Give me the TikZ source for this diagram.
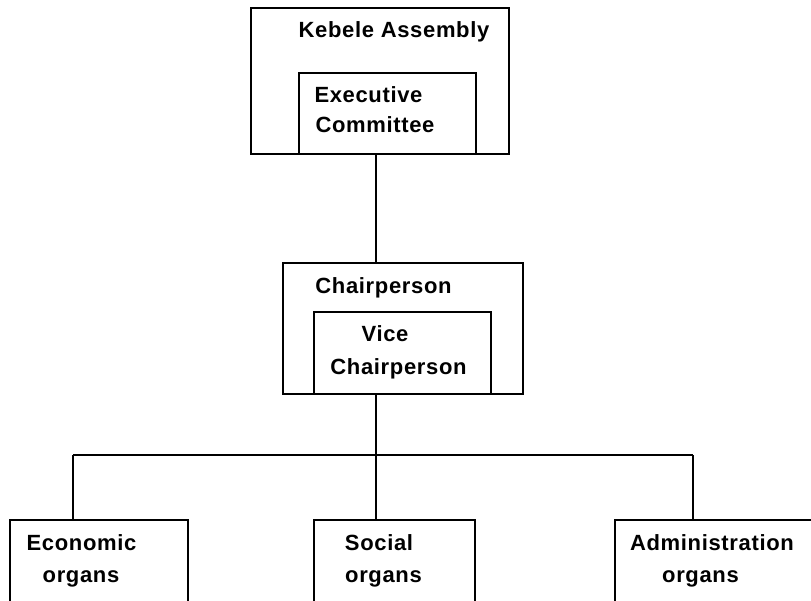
\documentclass[tikz,border=0pt]{standalone}
\usepackage{fontspec}
\setmainfont{Liberation Sans}
\newfontfamily\labelfont[LetterSpace=3]{Liberation Sans}
\begin{document}
\begin{tikzpicture}[x=1pt,y=-1pt,
  box/.style={draw, line width=1.5pt, rectangle, inner sep=0pt, anchor=north west},
  lbl/.style={anchor=base, inner sep=0pt, font=\labelfont\fontsize{22}{32}\selectfont\bfseries},
  link/.style={line width=1.5pt}]
\useasboundingbox (0,0) rectangle (811,600);
\clip (0,0) rectangle (811,600);

% outer and inner boxes
\node[box, minimum width=258pt, minimum height=146pt] (ka) at (250,7) {};
\node[box, minimum width=177pt, minimum height=81pt] (ec) at (298,72) {};
\node[box, minimum width=240pt, minimum height=131pt] (ch) at (282,262) {};
\node[box, minimum width=177pt, minimum height=82pt] (vc) at (313,311) {};
\node[box, minimum width=178pt, minimum height=110pt] (eco) at (9,519) {};
\node[box, minimum width=161pt, minimum height=110pt] (soc) at (313,519) {};
\node[box, minimum width=216pt, minimum height=110pt] (adm) at (614,519) {};

% labels
\node[lbl] (kaT) at (394,37) {Kebele Assembly};
\node[lbl] (ecT1) at (368.5,102) {Executive};
\node[lbl] (ecT2) at (375,132) {Committee};
\node[lbl] (chT) at (383.5,293) {Chairperson};
\node[lbl] (vcT1) at (385,341) {Vice};
\node[lbl] (vcT2) at (398.5,374) {Chairperson};
\node[lbl] (ecoT1) at (81.5,550) {Economic};
\node[lbl] (ecoT2) at (81,582) {organs};
\node[lbl] (socT1) at (379,550) {Social};
\node[lbl] (socT2) at (383.5,582) {organs};
\node[lbl] (admT1) at (712,550) {Administration};
\node[lbl] (admT2) at (700.5,582) {organs};

% branching points
\coordinate (spine) at (376,455);
\coordinate (jl) at (73,455);
\coordinate (jr) at (693,455);

% connectors
\draw[link] (ec.south -| spine) -- (ch.north -| spine);
\draw[link] (vc.south -| spine) -- (spine);
\draw[link] (jl) -- (jr);
\draw[link] (jl) -- (eco.north -| jl);
\draw[link] (spine) -- (soc.north -| spine);
\draw[link] (jr) -- (adm.north -| jr);
\end{tikzpicture}
\end{document}
